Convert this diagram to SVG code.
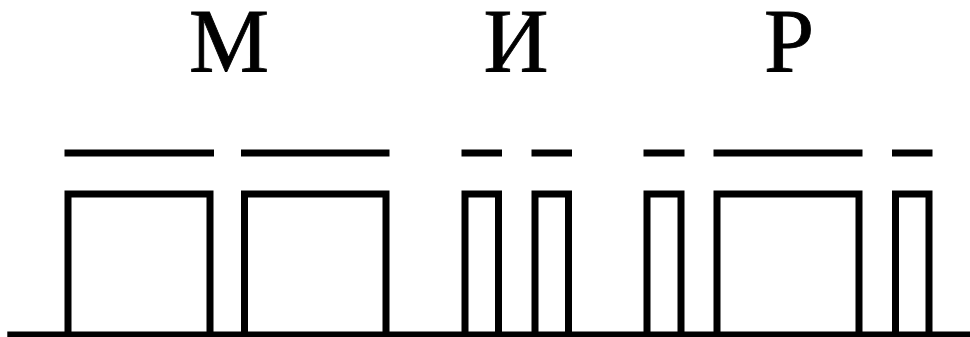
<svg xmlns="http://www.w3.org/2000/svg" width="970" height="337" viewBox="0 0 970 337">
<style>
.lbl{font-family:"Liberation Serif","Times New Roman",serif;font-size:90px;fill:#000;stroke:#000;stroke-width:0.8;text-anchor:middle}
.p{fill:none;stroke:#000;stroke-width:7;stroke-linejoin:miter;stroke-linecap:butt}
.d{stroke:#000;stroke-width:7;stroke-linecap:butt}
</style>
<rect width="970" height="337" fill="#fff"/>
<g id="letters">
<text class="lbl" x="229" y="72">М</text>
<text class="lbl" x="516" y="72">И</text>
<text class="lbl" x="789" y="72">Р</text>
</g>
<g id="dashes">
<line class="d" x1="64.5" y1="153" x2="214" y2="153"/>
<line class="d" x1="241" y1="153" x2="389.5" y2="153"/>
<line class="d" x1="461.5" y1="153" x2="502" y2="153"/>
<line class="d" x1="531.5" y1="153" x2="572" y2="153"/>
<line class="d" x1="643.5" y1="153" x2="684.5" y2="153"/>
<line class="d" x1="713.5" y1="153" x2="862.5" y2="153"/>
<line class="d" x1="892" y1="153" x2="932.5" y2="153"/>
</g>
<g id="pulses">
<path class="p" d="M68 335V194H210V335"/>
<path class="p" d="M244.5 335V194H386V335"/>
<path class="p" d="M465 335V194H498.5V335"/>
<path class="p" d="M535 335V194H568.5V335"/>
<path class="p" d="M647 335V194H681V335"/>
<path class="p" d="M717 335V194H859V335"/>
<path class="p" d="M895.5 335V194H929V335"/>
</g>
<g id="baseline">
<line class="d" x1="7.3" y1="335" x2="970" y2="335"/>
</g>
</svg>
